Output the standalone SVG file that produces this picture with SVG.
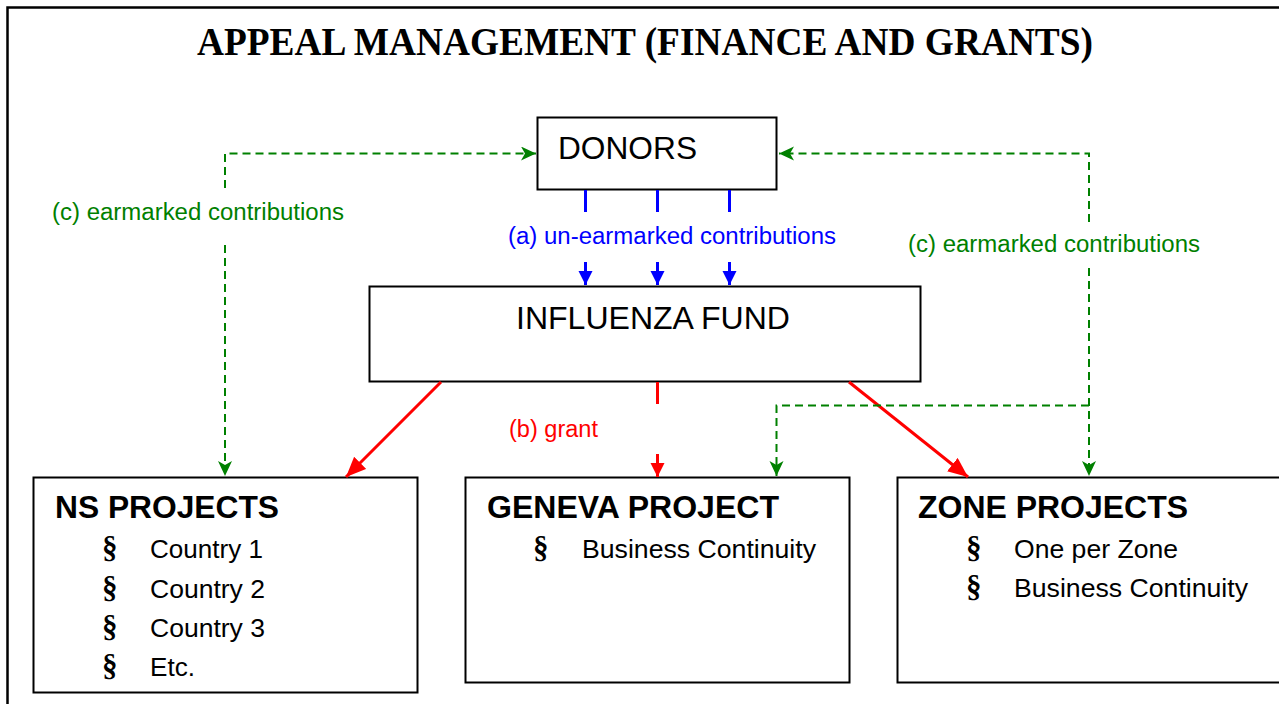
<svg xmlns="http://www.w3.org/2000/svg" width="1279" height="704" viewBox="0 0 1279 704">
<style>
.box{fill:#fff;stroke:#000;stroke-width:2}
.t{font-family:"Liberation Sans",Arial,sans-serif;fill:#000}
.big{font-size:32px}
.hd{font-size:32px;font-weight:bold}
.it{font-size:26.5px}
.sec{font-family:"Liberation Serif","Times New Roman",serif;font-size:31px;font-weight:bold}
.lbl{font-family:"Liberation Sans",Arial,sans-serif;font-size:23.5px}
.g{fill:none;stroke:#008000;stroke-width:2;stroke-dasharray:8 5}
.b{fill:none;stroke:#0000ff;stroke-width:3}
.r{fill:none;stroke:#ff0000;stroke-width:3}
</style>
<defs>
<marker id="mb" markerUnits="userSpaceOnUse" markerWidth="16" markerHeight="16" refX="14" refY="7" orient="auto"><path d="M0,0 L14,7 L0,14 z" fill="#0000ff"/></marker>
<marker id="mr" markerUnits="userSpaceOnUse" markerWidth="16" markerHeight="16" refX="14" refY="7" orient="auto"><path d="M0,0 L14,7 L0,14 z" fill="#ff0000"/></marker>
<marker id="mr2" markerUnits="userSpaceOnUse" markerWidth="22" markerHeight="20" refX="20" refY="8.5" orient="auto"><path d="M0,0 L20,8.5 L0,17 z" fill="#ff0000"/></marker>
<marker id="mg" markerUnits="userSpaceOnUse" markerWidth="16" markerHeight="16" refX="15" refY="7" orient="auto"><path d="M0,0 L15,7 L0,14 L4,7 z" fill="#008000"/></marker>
</defs>
<rect x="0" y="0" width="1279" height="704" fill="#fff"/>
<path d="M7.5,704 V7.5 H1279" fill="none" stroke="#000" stroke-width="2.5"/>
<text x="197" y="55" font-family="'Liberation Serif','Times New Roman',serif" font-size="40" font-weight="bold" textLength="896" lengthAdjust="spacingAndGlyphs">APPEAL MANAGEMENT (FINANCE AND GRANTS)</text>

<g id="donors">
<rect class="box" x="537.5" y="117.5" width="239" height="72"/>
<text class="t big" x="558" y="159" textLength="139" lengthAdjust="spacingAndGlyphs">DONORS</text>
</g>
<g id="influenza-fund">
<rect class="box" x="369.5" y="286.5" width="551" height="95"/>
<text class="t big" x="516" y="329" textLength="274" lengthAdjust="spacingAndGlyphs">INFLUENZA FUND</text>
</g>
<g id="ns-projects">
<rect class="box" x="33.5" y="477.5" width="384" height="215"/>
<text class="t hd" x="55" y="518" textLength="224" lengthAdjust="spacingAndGlyphs">NS PROJECTS</text>
<text class="sec" x="102" y="558">§</text>
<text class="t it" x="150" y="558" textLength="113" lengthAdjust="spacingAndGlyphs">Country 1</text>
<text class="sec" x="102" y="598">§</text>
<text class="t it" x="150" y="598" textLength="115" lengthAdjust="spacingAndGlyphs">Country 2</text>
<text class="sec" x="102" y="637">§</text>
<text class="t it" x="150" y="637" textLength="115" lengthAdjust="spacingAndGlyphs">Country 3</text>
<text class="sec" x="102" y="676">§</text>
<text class="t it" x="150" y="676" textLength="45" lengthAdjust="spacingAndGlyphs">Etc.</text>
</g>
<g id="geneva-project">
<rect class="box" x="465.5" y="477.5" width="384" height="205"/>
<text class="t hd" x="487" y="518" textLength="292" lengthAdjust="spacingAndGlyphs">GENEVA PROJECT</text>
<text class="sec" x="533" y="558">§</text>
<text class="t it" x="582" y="558" textLength="234" lengthAdjust="spacingAndGlyphs">Business Continuity</text>
</g>
<g id="zone-projects">
<path d="M1279,477.5 H897.5 V682.5 H1279" fill="#fff" stroke="#000" stroke-width="2"/>
<text class="t hd" x="918" y="518" textLength="270" lengthAdjust="spacingAndGlyphs">ZONE PROJECTS</text>
<text class="sec" x="966" y="558">§</text>
<text class="t it" x="1014" y="558" textLength="164" lengthAdjust="spacingAndGlyphs">One per Zone</text>
<text class="sec" x="966" y="597">§</text>
<text class="t it" x="1014" y="597" textLength="234" lengthAdjust="spacingAndGlyphs">Business Continuity</text>
</g>

<g id="connectors">
<path class="b" d="M585.5,190 V212 M657.5,190 V212 M729.5,190 V212"/>
<path class="b" d="M585.5,262 V285" marker-end="url(#mb)"/>
<path class="b" d="M657.5,262 V285" marker-end="url(#mb)"/>
<path class="b" d="M729.5,262 V285" marker-end="url(#mb)"/>
<text class="lbl" x="508" y="244" fill="#0000ff" textLength="328" lengthAdjust="spacingAndGlyphs">(a) un-earmarked contributions</text>
<path class="r" d="M441,382 L346,477" marker-end="url(#mr2)"/>
<path class="r" d="M849,382 L968,477" marker-end="url(#mr2)"/>
<path class="r" d="M657.5,382 V404"/>
<path class="r" d="M657.5,454 V477" marker-end="url(#mr)"/>
<text class="lbl" x="509" y="437" fill="#ff0000" textLength="89" lengthAdjust="spacingAndGlyphs">(b) grant</text>
<path class="g" d="M225,188 V153.5 H536" marker-end="url(#mg)"/>
<path class="g" d="M225,245 V476" marker-end="url(#mg)"/>
<text class="lbl" x="52" y="220" fill="#008000" textLength="292" lengthAdjust="spacingAndGlyphs">(c) earmarked contributions</text>
<path class="g" d="M1089,222 V153.5 H779" marker-end="url(#mg)"/>
<path class="g" d="M1089,268 V476" marker-end="url(#mg)"/>
<path class="g" d="M1089,405.5 H776.5 V476" marker-end="url(#mg)"/>
<text class="lbl" x="908" y="252" fill="#008000" textLength="292" lengthAdjust="spacingAndGlyphs">(c) earmarked contributions</text>
</g>
</svg>
